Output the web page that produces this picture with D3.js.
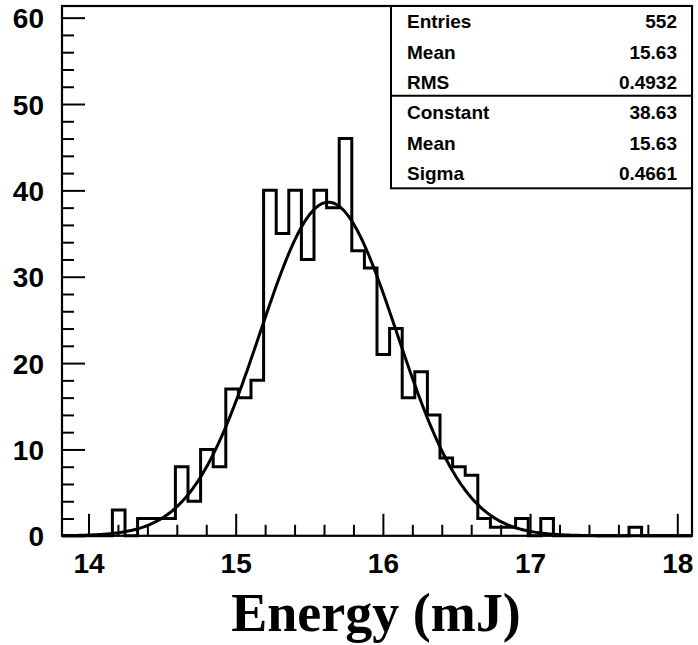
<!DOCTYPE html>
<html>
<head>
<meta charset="utf-8">
<script src="https://cdn.jsdelivr.net/npm/d3@7/dist/d3.min.js"></script>
<style>
  html, body { margin: 0; padding: 0; background: #fff; }
  svg { display: block; }
</style>
</head>
<body>
<svg id="chart" width="698" height="645"></svg>
<script>
// ---- data ----
const xRange = [13.82, 18.1];
const nBins = 50;
const counts = [
  0, 0, 0, 0, 3, 0, 2, 2, 2, 8,
  4, 10, 8, 17, 16, 18, 40, 35, 40, 32,
  40, 38, 46, 33, 31, 21, 24, 16, 19, 14,
  9, 8, 7, 2, 1, 1, 2, 0, 2, 0,
  0, 0, 0, 0, 0, 1, 0, 0, 0, 0
];
const yMax = 61.35;
const xMajorTicks = [14, 15, 16, 17, 18];
const yMajorTicks = [0, 10, 20, 30, 40, 50, 60];
const statsTop = [["Entries", "552"], ["Mean", "15.63"], ["RMS", "0.4932"]];
const statsFit = [["Constant", "38.63"], ["Mean", "15.63"], ["Sigma", "0.4661"]];
const fitConstant = 38.63, fitMean = 15.63, fitSigma = 0.4661;
const xTitle = "Energy (mJ)";

// ---- layout ----
const L = 62, R = 692, T = 6, B = 535.8;
const svg = d3.select("#chart");
const x = d3.scaleLinear().domain(xRange).range([L, R]);
const y = d3.scaleLinear().domain([0, yMax]).range([B, T]);

const binW = (xRange[1] - xRange[0]) / nBins;
const edges = d3.range(nBins + 1).map(i => xRange[0] + i * binW);

// minor ticks
const xMinor = d3.range(14, 18.0001, 0.2).map(v => +v.toFixed(2)).filter(v => !xMajorTicks.includes(v));
const yMinor = d3.range(0, 60.0001, 2).filter(v => v % 10 !== 0);

const font = "'Liberation Sans', Arial, Helvetica, sans-serif";

// x axis minor
svg.append("g").attr("transform", `translate(0,${B})`)
  .call(d3.axisBottom(x).tickValues(xMinor).tickSize(-11).tickFormat(""))
  .call(g => g.select(".domain").remove())
  .call(g => g.selectAll("line").attr("stroke", "#000").attr("stroke-width", 2));
// x axis major
svg.append("g").attr("transform", `translate(0,${B})`)
  .call(d3.axisBottom(x).tickValues(xMajorTicks).tickSize(-22).tickPadding(17).tickFormat(d3.format("d")))
  .call(g => g.select(".domain").remove())
  .call(g => g.selectAll("line").attr("stroke", "#000").attr("stroke-width", 2))
  .call(g => g.selectAll("text").attr("fill", "#000")
      .style("font-family", font).style("font-weight", "bold").style("font-size", "28px"));

// y axis minor
svg.append("g").attr("transform", `translate(${L},0)`)
  .call(d3.axisLeft(y).tickValues(yMinor).tickSize(-12).tickFormat(""))
  .call(g => g.select(".domain").remove())
  .call(g => g.selectAll("line").attr("stroke", "#000").attr("stroke-width", 2));
// y axis major
svg.append("g").attr("transform", `translate(${L},0)`)
  .call(d3.axisLeft(y).tickValues(yMajorTicks).tickSize(-23).tickPadding(18).tickFormat(d3.format("d")))
  .call(g => g.select(".domain").remove())
  .call(g => g.selectAll("line").attr("stroke", "#000").attr("stroke-width", 2))
  .call(g => g.selectAll("text").attr("fill", "#000").attr("dy", "0.36em")
      .style("font-family", font).style("font-weight", "bold").style("font-size", "28px"));

// histogram step outline
let pts = [[edges[0], 0]];
counts.forEach((c, i) => { pts.push([edges[i], c]); pts.push([edges[i + 1], c]); });
pts.push([edges[nBins], 0]);
svg.append("path")
  .attr("d", d3.line().x(d => x(d[0])).y(d => y(d[1]))(pts))
  .attr("fill", "none").attr("stroke", "#000").attr("stroke-width", 3)
  .attr("stroke-linejoin", "miter");

// gaussian fit curve
const gx = d3.range(0, 401).map(i => xRange[0] + i * (xRange[1] - xRange[0]) / 400);
const gauss = v => fitConstant * Math.exp(-0.5 * Math.pow((v - fitMean) / fitSigma, 2));
svg.append("path")
  .attr("d", d3.line().x(d => x(d)).y(d => y(gauss(d)))(gx))
  .attr("fill", "none").attr("stroke", "#000").attr("stroke-width", 3);

// frame
svg.append("rect").attr("x", L).attr("y", T).attr("width", R - L).attr("height", B - T)
  .attr("fill", "none").attr("stroke", "#000").attr("stroke-width", 2.2);

// stats box
const sbL = 391, sbT = T, sbB = 188.3, sbMid = 95.7;
const sb = svg.append("g");
sb.append("rect").attr("x", sbL).attr("y", sbT).attr("width", R - sbL).attr("height", sbB - sbT)
  .attr("fill", "#fff").attr("stroke", "#000").attr("stroke-width", 2);
sb.append("line").attr("x1", sbL).attr("x2", R).attr("y1", sbMid).attr("y2", sbMid)
  .attr("stroke", "#000").attr("stroke-width", 2);
const rows = statsTop.concat(statsFit);
const rowBase = [28.3, 58.8, 89.3, 119.3, 149.6, 179.6];
rows.forEach((r, i) => {
  sb.append("text").attr("x", 407).attr("y", rowBase[i]).text(r[0])
    .style("font-family", font).style("font-weight", "bold").style("font-size", "19px");
  sb.append("text").attr("x", 677).attr("y", rowBase[i]).attr("text-anchor", "end").text(r[1])
    .style("font-family", font).style("font-weight", "bold").style("font-size", "19px");
});

// x title
svg.append("text").attr("x", 376).attr("y", 630.5).attr("text-anchor", "middle").text(xTitle)
  .style("font-family", "'Liberation Serif', 'Times New Roman', serif")
  .style("font-weight", "bold").style("font-size", "54px");
</script>
</body>
</html>
